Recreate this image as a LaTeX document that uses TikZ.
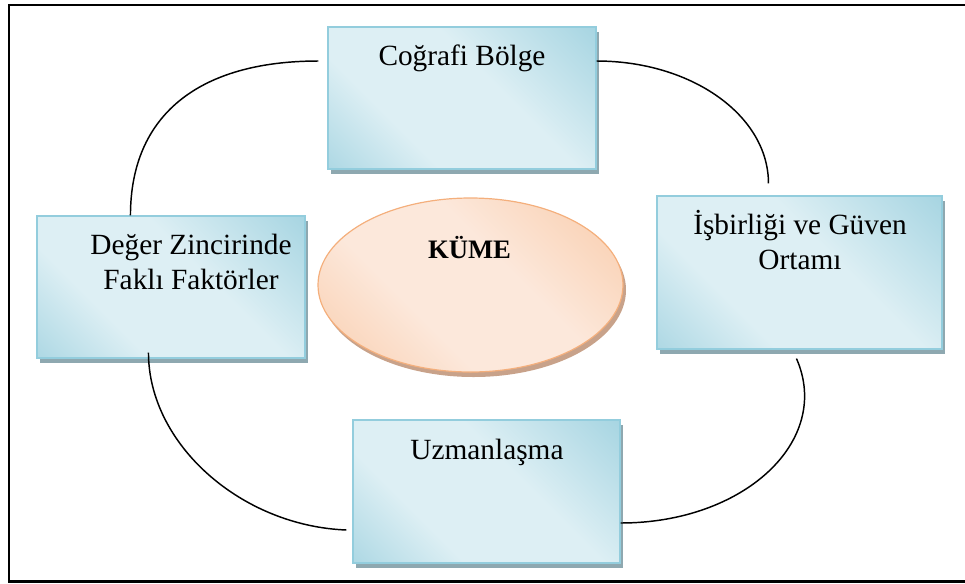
\documentclass[tikz,border=0pt]{standalone}
\usepackage{fontspec}
\setmainfont{Liberation Serif}
\usetikzlibrary{shadows,calc,shapes.geometric}

\definecolor{bdark}{HTML}{8AC7D8}
\definecolor{blight}{HTML}{DDEFF4}
\definecolor{bline}{HTML}{93CDDD}
\definecolor{bshadow}{HTML}{8EA8B0}
\definecolor{pdark}{HTML}{F7BC90}
\definecolor{plight}{HTML}{FCE8DB}
\definecolor{pline}{HTML}{F4AF7C}
\definecolor{pshadow}{HTML}{C8A28A}

% diagonal gradients: dark corners, light band through the middle
\pgfdeclarehorizontalshading{boxshade}{100bp}{color(0bp)=(bdark); color(34bp)=(blight); color(58bp)=(blight); color(100bp)=(bdark)}
\pgfdeclarehorizontalshading{ovalshade}{100bp}{color(0bp)=(pdark); color(38bp)=(plight); color(58bp)=(plight); color(100bp)=(pdark)}

\tikzset{
  topicbox/.style={rectangle, draw=bline, line width=0.8pt, shading=boxshade, shading angle=45,
    inner sep=0pt,
    drop shadow={shadow xshift=2.25pt, shadow yshift=-3.75pt, fill=bshadow, opacity=1}},
  oval/.style={ellipse, draw=pline, line width=0.9pt, shading=ovalshade, shading angle=45,
    inner sep=0pt, minimum width=228.75pt, minimum height=130.5pt,
    drop shadow={shadow xshift=2.25pt, shadow yshift=-3.75pt, fill=pshadow, opacity=1}},
  txt/.style={font=\fontsize{22}{26}\selectfont, inner sep=0pt, align=center, anchor=base},
  link/.style={line width=1.1pt, black},
  outline/.style={line width=1.6pt, black}
}

\begin{document}
\begin{tikzpicture}[x=0.75pt, y=-0.75pt]
\useasboundingbox (0,0) rectangle (965,583);

% outer frame
\draw[outline] (965,5) -- (9,5) -- (9,581.5) -- (965,581.5);

% boxes
\node[topicbox, minimum width=201pt, minimum height=106.5pt] (geo) at (462,98) {};
\node[topicbox, minimum width=201pt, minimum height=106.5pt] (val) at (171,287) {};
\node[topicbox, minimum width=213.75pt, minimum height=114.75pt] (coop) at (799.5,272.5) {};
\node[topicbox, minimum width=200.25pt, minimum height=107.25pt] (spec) at (486.5,491.5) {};
\node[oval] (kume) at (470.5,285) {};

% texts (two-line labels sit on the baseline of their last line)
\node[txt] (geoT) at (462,65) {Coğrafi Bölge};
\node[txt] (valT) at (191,289) {Değer Zincirinde\\Faklı Faktörler};
\node[txt] (coopT) at (800,269) {İşbirliği ve Güven\\Ortamı};
\node[txt, font=\fontsize{20}{24}\selectfont\bfseries] (kumeT) at (469.5,258) {KÜME};
\node[txt] (specT) at (487,459) {Uzmanlaşma};

% connector end points
\coordinate (a1) at ($(val.north west)+(94,0)$);
\coordinate (a2) at ($(geo.west)+(-9,-37)$);
\coordinate (b1) at ($(geo.east)+(0,-37)$);
\coordinate (b2) at ($(coop.north west)+(112,-12)$);
\coordinate (c1) at ($(coop.south west)+(140,9)$);
\coordinate (c2) at ($(spec.east)+(0,31.5)$);
\coordinate (d1) at ($(val.south west)+(112,-6)$);
\coordinate (d2) at ($(spec.west)+(-6,38.5)$);

% connectors
\draw[link] (a1) .. controls ($(a1)+(0,-100)$) and ($(a2)+(-120,0)$) .. (a2);
\draw[link] (b1) .. controls ($(b1)+(95,0)$) and ($(b2)+(0,-68)$) .. (b2);
\draw[link] (c1) .. controls ($(c1)+(36,82)$) and ($(c2)+(124,0)$) .. (c2);
\draw[link] (d1) .. controls ($(d1)+(0,92)$) and ($(d2)+(-105,-4)$) .. (d2);
\end{tikzpicture}
\end{document}
